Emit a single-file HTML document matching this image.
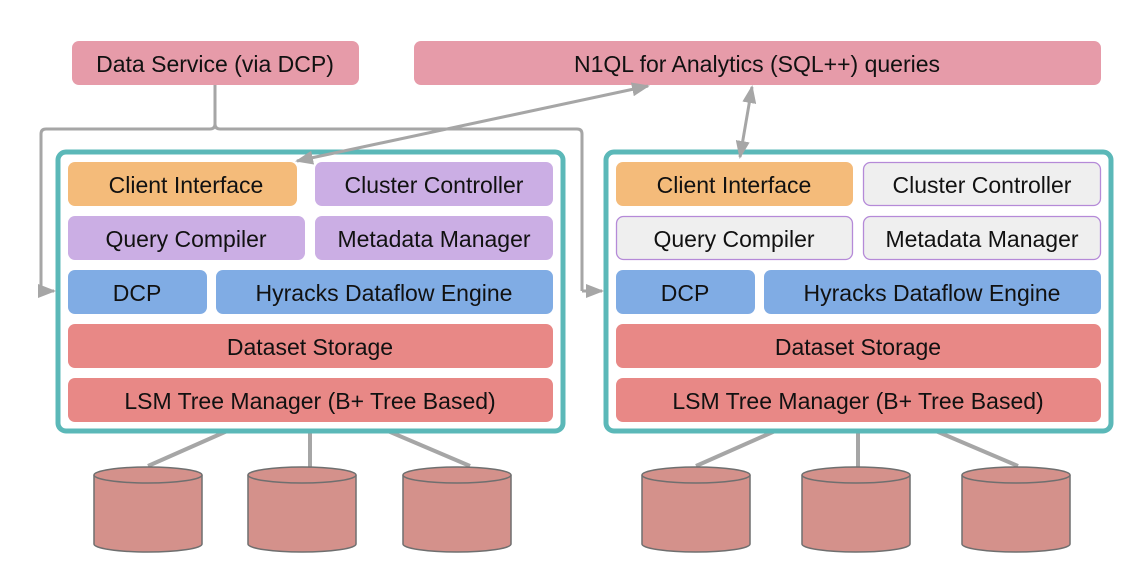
<!DOCTYPE html>
<html><head><style>
body{margin:0;width:1136px;height:576px;background:#fff;overflow:hidden}
svg text{font-family:"Liberation Sans",sans-serif;font-size:23px;fill:#111;text-anchor:middle;dominant-baseline:central}
</style></head><body>
<svg width="1136" height="576" viewBox="0 0 1136 576">
<defs>
<marker id="ah2" markerWidth="18" markerHeight="14" refX="16" refY="7" orient="auto-start-reverse" markerUnits="userSpaceOnUse" viewBox="0 0 18 14"><path d="M0,0 L18,7 L0,14 z" fill="#a6a6a6"/></marker>
</defs>
<rect x="72" y="41" width="287" height="44" rx="7" fill="#e69ba9"/>
<text x="215" y="64">Data Service (via DCP)</text>
<rect x="414" y="41" width="687" height="44" rx="7" fill="#e69ba9"/>
<text x="757" y="64">N1QL for Analytics (SQL++) queries</text>
<g fill="none" stroke="#a6a6a6" stroke-width="3">
<path d="M215,85 V124 Q215,129 210,129 H46 Q41,129 41,134 V291 H40"/>
<path d="M215,124 Q215,129 220,129 H577 Q582,129 582,134 V291"/>
<path d="M41,291 H54" marker-end="url(#ah2)"/>
<path d="M582,291 H602" marker-end="url(#ah2)"/>
<path d="M252,420 L148,466 M310,420 V467 M362,420 L470,466" stroke-width="4"/>
<path d="M800,420 L696,466 M858,420 V467 M910,420 L1018,466" stroke-width="4"/>
</g>
<rect x="58" y="152" width="505" height="279" rx="8" fill="#fff" stroke="#5bb8b8" stroke-width="5"/>
<rect x="68" y="162" width="229" height="44" rx="7" fill="#f4bb7a"/><text x="186" y="185">Client Interface</text>
<rect x="315" y="162" width="238" height="44" rx="7" fill="#cbaee4"/><text x="434" y="185">Cluster Controller</text>
<rect x="68" y="216" width="237" height="44" rx="7" fill="#cbaee4"/><text x="186" y="239">Query Compiler</text>
<rect x="315" y="216" width="238" height="44" rx="7" fill="#cbaee4"/><text x="434" y="239">Metadata Manager</text>
<rect x="68" y="270" width="139" height="44" rx="7" fill="#80ace4"/><text x="137" y="293">DCP</text>
<rect x="216" y="270" width="337" height="44" rx="7" fill="#80ace4"/><text x="384" y="293">Hyracks Dataflow Engine</text>
<rect x="68" y="324" width="485" height="44" rx="7" fill="#e88886"/><text x="310" y="347">Dataset Storage</text>
<rect x="68" y="378" width="485" height="44" rx="7" fill="#e88886"/><text x="310" y="401">LSM Tree Manager (B+ Tree Based)</text>
<rect x="606" y="152" width="505" height="279" rx="8" fill="#fff" stroke="#5bb8b8" stroke-width="5"/>
<rect x="616" y="162" width="237" height="44" rx="7" fill="#f4bb7a"/><text x="734" y="185">Client Interface</text>
<rect x="863.5" y="162.5" width="237" height="43" rx="7" fill="#efefef" stroke="#b58ad8" stroke-width="1.3"/><text x="982" y="185">Cluster Controller</text>
<rect x="616.5" y="216.5" width="236" height="43" rx="7" fill="#efefef" stroke="#b58ad8" stroke-width="1.3"/><text x="734" y="239">Query Compiler</text>
<rect x="863.5" y="216.5" width="237" height="43" rx="7" fill="#efefef" stroke="#b58ad8" stroke-width="1.3"/><text x="982" y="239">Metadata Manager</text>
<rect x="616" y="270" width="139" height="44" rx="7" fill="#80ace4"/><text x="685" y="293">DCP</text>
<rect x="764" y="270" width="337" height="44" rx="7" fill="#80ace4"/><text x="932" y="293">Hyracks Dataflow Engine</text>
<rect x="616" y="324" width="485" height="44" rx="7" fill="#e88886"/><text x="858" y="347">Dataset Storage</text>
<rect x="616" y="378" width="485" height="44" rx="7" fill="#e88886"/><text x="858" y="401">LSM Tree Manager (B+ Tree Based)</text>
<g fill="none" stroke="#a6a6a6" stroke-width="3">
<path d="M648,86 L297,161" marker-start="url(#ah2)" marker-end="url(#ah2)"/>
<path d="M752,87 L740,157" marker-start="url(#ah2)" marker-end="url(#ah2)"/>
</g>
<g fill="#d4918b" stroke="#6f6f6f" stroke-width="1.5">
<g id="cyl"><path d="M94,475 V544 A54,8 0 0 0 202,544 V475"/><ellipse cx="148" cy="475" rx="54" ry="8"/></g>
<use href="#cyl" x="154"/><use href="#cyl" x="309"/>
<use href="#cyl" x="548"/><use href="#cyl" x="708"/><use href="#cyl" x="868"/>
</g>
</svg>
</body></html>
